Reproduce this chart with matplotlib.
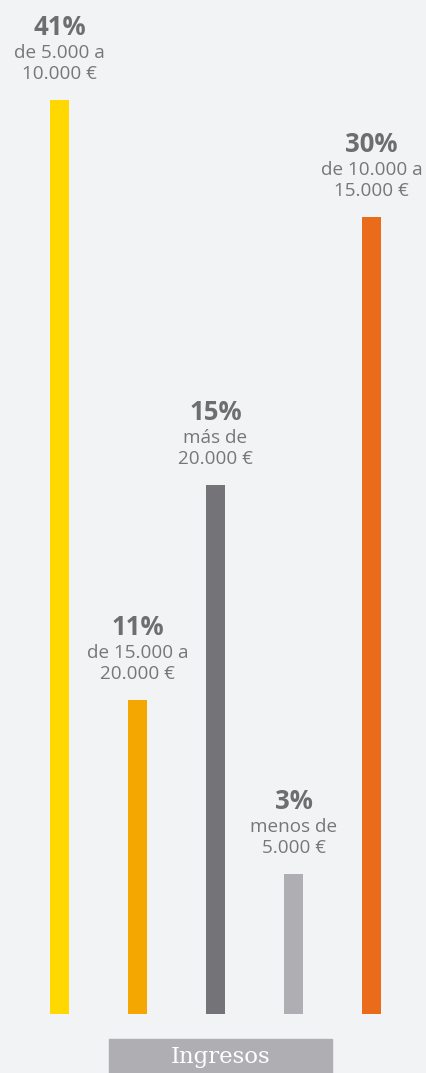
import matplotlib.pyplot as plt
from matplotlib.patches import Rectangle

# data
percents = ['41%', '11%', '15%', '3%', '30%']
ranges = ['de 5.000 a\n10.000 €', 'de 15.000 a\n20.000 €', 'más de\n20.000 €',
          'menos de\n5.000 €', 'de 10.000 a\n15.000 €']
bar_heights = [914, 314, 529, 140, 797]  # drawn heights, not proportional to the %
colors = ['#FFD800', '#F4A700', '#747378', '#AFAEB3', '#EA6C1A']
bg = '#F2F3F5'

fig = plt.figure(figsize=(4.27, 10.73), dpi=100, facecolor=bg)
ax = fig.add_axes([0, 1 - 1014 / 1073, 1, 1014 / 1073])
ax.set_facecolor(bg)

x = list(range(len(percents)))
ax.bar(x, bar_heights, width=0.25, color=colors)
ax.set_xlim(-59.5 / 78, (427 - 59.5) / 78)
ax.set_ylim(0, 1014)
ax.axis('off')

for xi, h, p, r in zip(x, bar_heights, percents, ranges):
    ax.annotate(p, (xi, h), xytext=(0, 52), textcoords='offset points',
                ha='center', va='center', fontsize=18.5, fontweight='bold',
                color='#6E6E6E', family='Open Sans')
    ax.annotate(r, (xi, h), xytext=(0, 26), textcoords='offset points',
                ha='center', va='center', fontsize=13.6, color='#777777',
                family='Open Sans', linespacing=1.22)

# category box at the bottom
fig.patches.append(Rectangle((109 / 427, 0), (332 - 109) / 427, 34 / 1073,
                             transform=fig.transFigure, color='#AFAEB3'))
fig.text(220.5 / 427, 1 - 1057 / 1073, 'Ingresos', ha='center', va='center',
         fontsize=16.5, color='white', family='DejaVu Serif')

fig.savefig('out.png', dpi=100, facecolor=bg)
